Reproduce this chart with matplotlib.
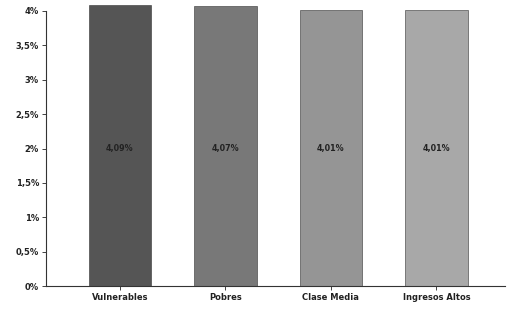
import numpy as np
import matplotlib.pyplot as plt
from matplotlib.ticker import FuncFormatter

categorias = ["Vulnerables", "Pobres", "Clase Media", "Ingresos Altos"]
valores = [4.09, 4.07, 4.01, 4.01]
etiquetas = ["4,09%", "4,07%", "4,01%", "4,01%"]
cores = ["#555555", "#787878", "#959595", "#a8a8a8"]

fig = plt.figure(figsize=(5.15, 3.13), dpi=100)
ax = fig.add_axes([46/515, 27/313, 459/515, 275/313])

x = np.arange(len(categorias))
barras = ax.bar(x, valores, width=0.59, color=cores, edgecolor="#333333", linewidth=0.4, clip_on=False)

# rotulos no meio das barras
for xi, txt in zip(x, etiquetas):
    ax.text(xi, 2.0, txt, ha="center", va="center", fontsize=5.8, fontweight="bold", color="#222222")

ax.set_xlim(-0.7, 3.65)
ax.set_ylim(0, 4.0)
ax.set_yticks(np.arange(0, 4.01, 0.5))
ax.yaxis.set_major_formatter(FuncFormatter(lambda v, p: (f"{v:g}%").replace(".", ",")))
ax.set_xticks(x)
ax.set_xticklabels(categorias)

for s in ["top", "right"]:
    ax.spines[s].set_visible(False)
ax.spines["left"].set_color("#333333")
ax.spines["bottom"].set_color("#333333")
ax.tick_params(axis="both", labelsize=6, length=3, width=0.6, colors="#222222", pad=2)
for lab in ax.get_xticklabels() + ax.get_yticklabels():
    lab.set_fontweight("bold")

fig.savefig("out.png", dpi=100)
